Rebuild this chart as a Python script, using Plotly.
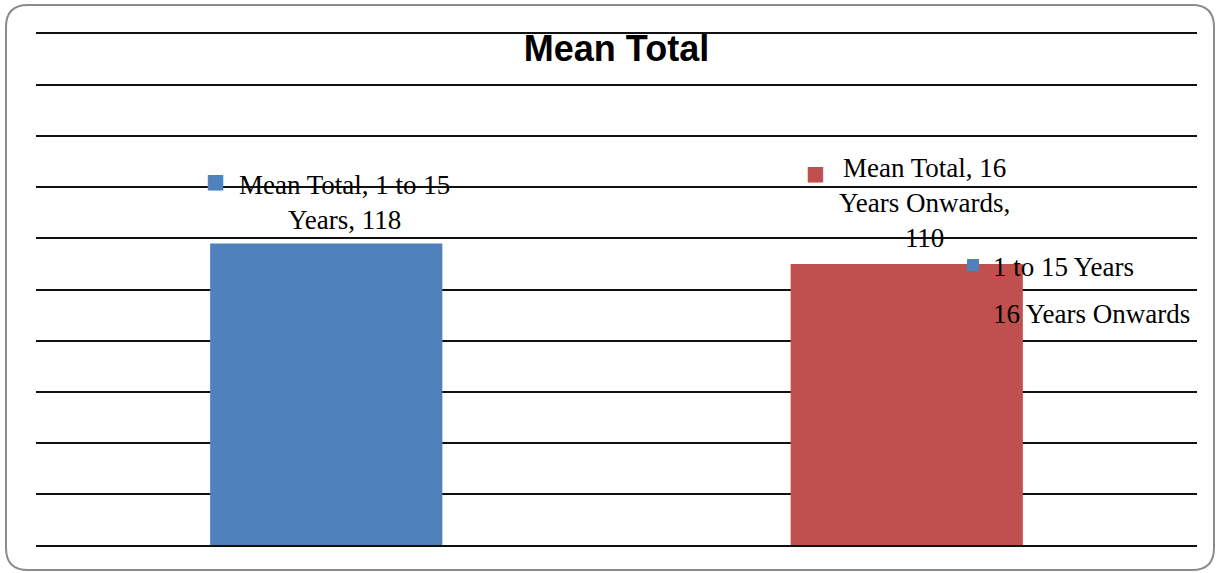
import plotly.graph_objects as go

# Chart data
categories = ["1 to 15 Years", "16 Years Onwards"]
mean_total = [118, 110]
series_name = "Mean Total"
bar_colors = ["#4F81BD", "#C0504D"]

# Figure geometry (pixels)
W, H = 1216, 573
M_L, M_R, M_T, M_B = 36, 19, 34, 28
PW, PH = W - M_L - M_R, H - M_T - M_B


def px_to_paper(px, py):
    return (px - M_L) / PW, (H - M_B - py) / PH


fig = go.Figure()

for i, (cat, val) in enumerate(zip(categories, mean_total)):
    fig.add_trace(go.Bar(
        x=[cat], y=[val], name=cat,
        marker=dict(color=bar_colors[i], line=dict(width=0)),
        width=0.4, legendgroup=cat,
        hoverinfo="skip",
    ))

label_font = dict(family="Liberation Serif, Times New Roman, serif", size=27, color="#000000")

# Data labels: "series, category, value" with a colour key to the left
label_lines = [
    [f"{series_name}, 1 to 15", f"Years, {mean_total[0]}"],
    [f"{series_name}, 16", "Years Onwards,", f"{mean_total[1]}"],
]
label_yshift = [7, 9]
key_xshift = [-111, -91]
key_yshift = [49, 77]
for i, (cat, val) in enumerate(zip(categories, mean_total)):
    fig.add_annotation(
        x=cat, y=val, xref="x", yref="y",
        text="<br>".join(label_lines[i]),
        showarrow=False, xanchor="center", yanchor="bottom",
        xshift=18, yshift=label_yshift[i],
        font=label_font, align="center",
    )
    fig.add_annotation(
        x=cat, y=val, xref="x", yref="y",
        text="■", showarrow=False,
        xanchor="center", yanchor="bottom",
        xshift=key_xshift[i], yshift=key_yshift[i],
        font=dict(family="DejaVu Sans", size=20, color=bar_colors[i]),
    )

# Rounded chart-area border
left, top, right, bottom, r = 6, 5, 1214, 570, 22
pts = {
    "a": px_to_paper(left + r, top), "b": px_to_paper(right - r, top),
    "c": px_to_paper(right, top), "d": px_to_paper(right, top + r),
    "e": px_to_paper(right, bottom - r), "f": px_to_paper(right, bottom),
    "g": px_to_paper(right - r, bottom), "h": px_to_paper(left + r, bottom),
    "i": px_to_paper(left, bottom), "j": px_to_paper(left, bottom - r),
    "k": px_to_paper(left, top + r), "l": px_to_paper(left, top),
}
p = {k: f"{v[0]:.5f},{v[1]:.5f}" for k, v in pts.items()}
path = (f"M{p['a']} L{p['b']} Q{p['c']} {p['d']} L{p['e']} Q{p['f']} {p['g']} "
        f"L{p['h']} Q{p['i']} {p['j']} L{p['k']} Q{p['l']} {p['a']} Z")
fig.add_shape(type="path", path=path, xref="paper", yref="paper",
              line=dict(color="#8c8c8c", width=2), fillcolor="rgba(0,0,0,0)", layer="below")

fig.update_layout(
    width=W, height=H,
    margin=dict(l=M_L, r=M_R, t=M_T, b=M_B, pad=0),
    paper_bgcolor="white", plot_bgcolor="white",
    barmode="overlay",
    title=dict(
        text="<b>Mean Total</b>", x=0.5, xref="paper", xanchor="center",
        y=1 - 48 / H, yref="container", yanchor="middle",
        font=dict(family="Liberation Sans, Arial, sans-serif", size=36, color="#000000"),
    ),
    # top and bottom rules come from the mirrored x-axis line
    xaxis=dict(
        type="category", range=[-0.5, 1.5], showticklabels=False,
        showgrid=False, zeroline=False, ticks="",
        showline=True, mirror=True, linecolor="#111111", linewidth=2,
    ),
    yaxis=dict(
        range=[0, 200], dtick=20, showticklabels=False,
        showgrid=True, gridcolor="#111111", gridwidth=2,
        zeroline=False, showline=False, ticks="",
    ),
    legend=dict(
        x=px_to_paper(953, 0)[0], y=px_to_paper(0, 241)[1],
        xanchor="left", yanchor="top",
        bgcolor="rgba(0,0,0,0)", borderwidth=0,
        font=label_font, traceorder="grouped", tracegroupgap=9,
        itemwidth=30,
    ),
    showlegend=True,
)

fig.write_html("out.html")
